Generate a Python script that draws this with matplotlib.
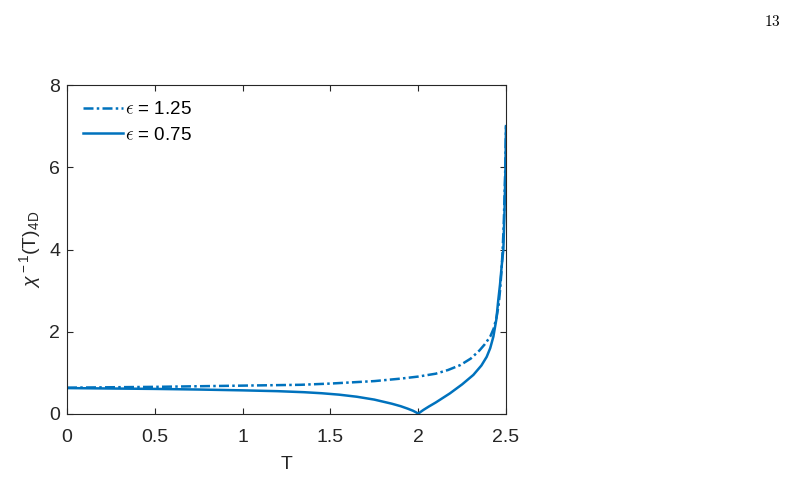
import matplotlib
matplotlib.use('Agg')
from matplotlib import pyplot as plt
import numpy as np

# data
T_a = [0.0, 0.25, 0.5, 0.75, 1.0, 1.33, 1.5, 1.75, 1.9, 2.0, 2.1, 2.17, 2.24, 2.3, 2.35,
       2.38, 2.41, 2.43, 2.447, 2.458, 2.466, 2.474, 2.481, 2.487, 2.491, 2.496, 2.5]
chi_a = [0.64, 0.65, 0.66, 0.675, 0.69, 0.71, 0.74, 0.80, 0.86, 0.91, 0.98, 1.07, 1.19, 1.35, 1.55,
         1.70, 1.88, 2.08, 2.37, 2.65, 3.0, 3.45, 4.0, 4.6, 5.2, 6.0, 7.0]   # eps = 1.25

T_b = [0.0, 0.25, 0.5, 0.75, 1.0, 1.2, 1.35, 1.45, 1.55, 1.65, 1.75, 1.8, 1.85, 1.9, 1.94, 1.97,
       1.99, 1.997, 2.0, 2.003, 2.01, 2.03, 2.06, 2.1, 2.14, 2.18, 2.25, 2.314, 2.36, 2.39,
       2.41, 2.428, 2.445, 2.456, 2.466, 2.475, 2.485, 2.492, 2.497, 2.5]
chi_b = [0.63, 0.62, 0.61, 0.595, 0.575, 0.555, 0.53, 0.505, 0.47, 0.42, 0.35, 0.30, 0.25, 0.19,
         0.13, 0.08, 0.035, 0.015, 0.0, 0.015, 0.04, 0.10, 0.18, 0.28, 0.39, 0.50, 0.72, 0.95,
         1.18, 1.39, 1.60, 1.88, 2.30, 2.77, 3.15, 3.58, 4.0, 5.0, 6.0, 7.0]  # eps = 0.75

labels = [r'$\epsilon$ = 1.25', r'$\epsilon$ = 0.75']
xticks = [0, 0.5, 1, 1.5, 2, 2.5]
yticks = [0, 2, 4, 6, 8]

plt.rcParams['font.family'] = ['Liberation Sans', 'DejaVu Sans']
plt.rcParams['mathtext.fontset'] = 'custom'
plt.rcParams['mathtext.rm'] = 'Liberation Sans'
plt.rcParams['mathtext.it'] = 'Liberation Sans:italic'

dark = '#262626'
blue = '#0072BD'

fig = plt.figure(figsize=(7.91, 4.78), dpi=100, facecolor='white')
ax = fig.add_axes([67/791, 64/478, 439/791, 329/478])

ax.plot(T_a, chi_a, color=blue, lw=1.8, linestyle=(0, (4, 1.3, 1.0, 1.3)), label=labels[0])
ax.plot(T_b, chi_b, color=blue, lw=1.8, label=labels[1])

ax.set_xlim(0, 2.5)
ax.set_ylim(0, 8)
ax.set_xticks(xticks)
ax.set_xticklabels(['0', '0.5', '1', '1.5', '2', '2.5'])
ax.set_yticks(yticks)
ax.tick_params(direction='in', top=True, right=True, length=4, width=0.8,
               labelsize=14, colors=dark)
ax.tick_params(axis='x', pad=11)
ax.tick_params(axis='y', pad=5)
for s in ax.spines.values():
    s.set_color(dark)
    s.set_linewidth(0.8)

ax.set_xlabel('T', fontsize=14, color=dark, labelpad=7)
ax.set_ylabel(r'$\chi^{\rm -1}$(T)$_{\rm 4D}$', fontsize=14, color=dark, labelpad=4)

leg = ax.legend(loc='upper left', frameon=False, fontsize=13.5, handlelength=2.15,
                handletextpad=0.1, borderaxespad=0.45, labelspacing=0.45)
for t in leg.get_texts():
    t.set_math_fontfamily('cm')

fig.text(0.987, 0.955, r'$\mathrm{13}$', fontsize=11, ha='right', va='center',
         math_fontfamily='cm')

plt.savefig('out.png', dpi=100)
